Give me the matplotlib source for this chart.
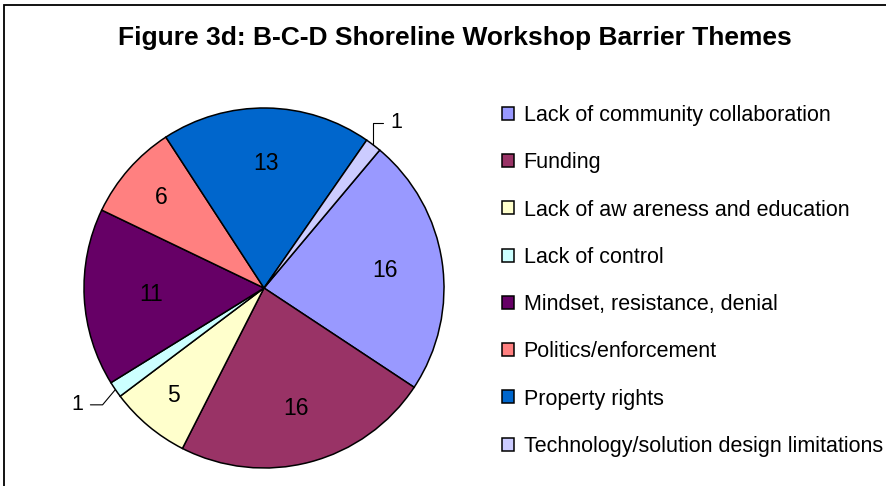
import matplotlib.pyplot as plt
from matplotlib.patches import Rectangle
import numpy as np

plt.rcParams['font.family'] = ['Liberation Sans', 'DejaVu Sans']

# data
themes = ['Lack of community collaboration', 'Funding', 'Lack of aw areness and education',
          'Lack of control', 'Mindset, resistance, denial', 'Politics/enforcement',
          'Property rights', 'Technology/solution design limitations']
counts = [16, 16, 5, 1, 11, 6, 13, 1]
colors = ['#9999FF', '#993366', '#FFFFCC', '#CCFFFF', '#660066', '#FF8080', '#0066CC', '#CCCCFF']

# where each inside label sits, as a fraction of the radius (layout only)
label_r = [0.68, 0.69, 0.78, 1.0, 0.63, 0.76, 0.69, 1.0]

W, H = 887, 486
fig = plt.figure(figsize=(W / 100, H / 100), dpi=100)

# pie axes: center (264, 288) px, radius 180 px
cx, cy, r = 264, 288, 180
ax = fig.add_axes([(cx - r) / W, (H - cy - r) / H, 2 * r / W, 2 * r / H])
wedges, _ = ax.pie(counts, colors=colors, startangle=50.0, counterclock=False,
                   wedgeprops=dict(edgecolor='black', linewidth=1.1))
ax.set_xlim(-1, 1)
ax.set_ylim(-1, 1)
ax.set_aspect('equal')
ax.axis('off')

fs = 15.5
for w, n, lr in zip(wedges, counts, label_r):
    mid = np.deg2rad((w.theta1 + w.theta2) / 2)
    x, y = np.cos(mid), np.sin(mid)
    if n > 1:
        ax.text(lr * x, lr * y, str(n), ha='center', va='center', fontsize=16.5)
    elif x > 0:
        ax.annotate(str(n), xy=(x, y), xytext=(12, 16), textcoords='offset points',
                    ha='left', va='center', fontsize=fs,
                    arrowprops=dict(arrowstyle='-', color='black', lw=0.8,
                                    connectionstyle='angle,angleA=0,angleB=90,rad=0',
                                    shrinkA=3, shrinkB=0))
    else:
        ax.annotate(str(n), xy=(x, y), xytext=(-23, -11), textcoords='offset points',
                    ha='right', va='center', fontsize=fs,
                    arrowprops=dict(arrowstyle='-', color='black', lw=0.8,
                                    connectionstyle='angle,angleA=0,angleB=50,rad=0',
                                    shrinkA=3, shrinkB=0))

fig.text(455 / W, 1 - 38 / H, 'Figure 3d: B-C-D Shoreline Workshop Barrier Themes',
         ha='center', va='center', fontsize=19, fontweight='bold')

leg = fig.legend(wedges, themes, loc='upper left', bbox_to_anchor=(502 / W, 1 - 105 / H),
                 frameon=False, fontsize=fs, handlelength=0.55, handleheight=0.55,
                 handletextpad=0.45, labelspacing=1.22, borderpad=0, borderaxespad=0)

# outer chart frame (right and bottom edges fall outside the picture)
fig.patches.append(Rectangle((4 / W, -0.1), 1.2, 1 - 5 / H + 0.1, transform=fig.transFigure,
                             fill=False, edgecolor='black', linewidth=1.3))

fig.savefig('out.png', dpi=100)
